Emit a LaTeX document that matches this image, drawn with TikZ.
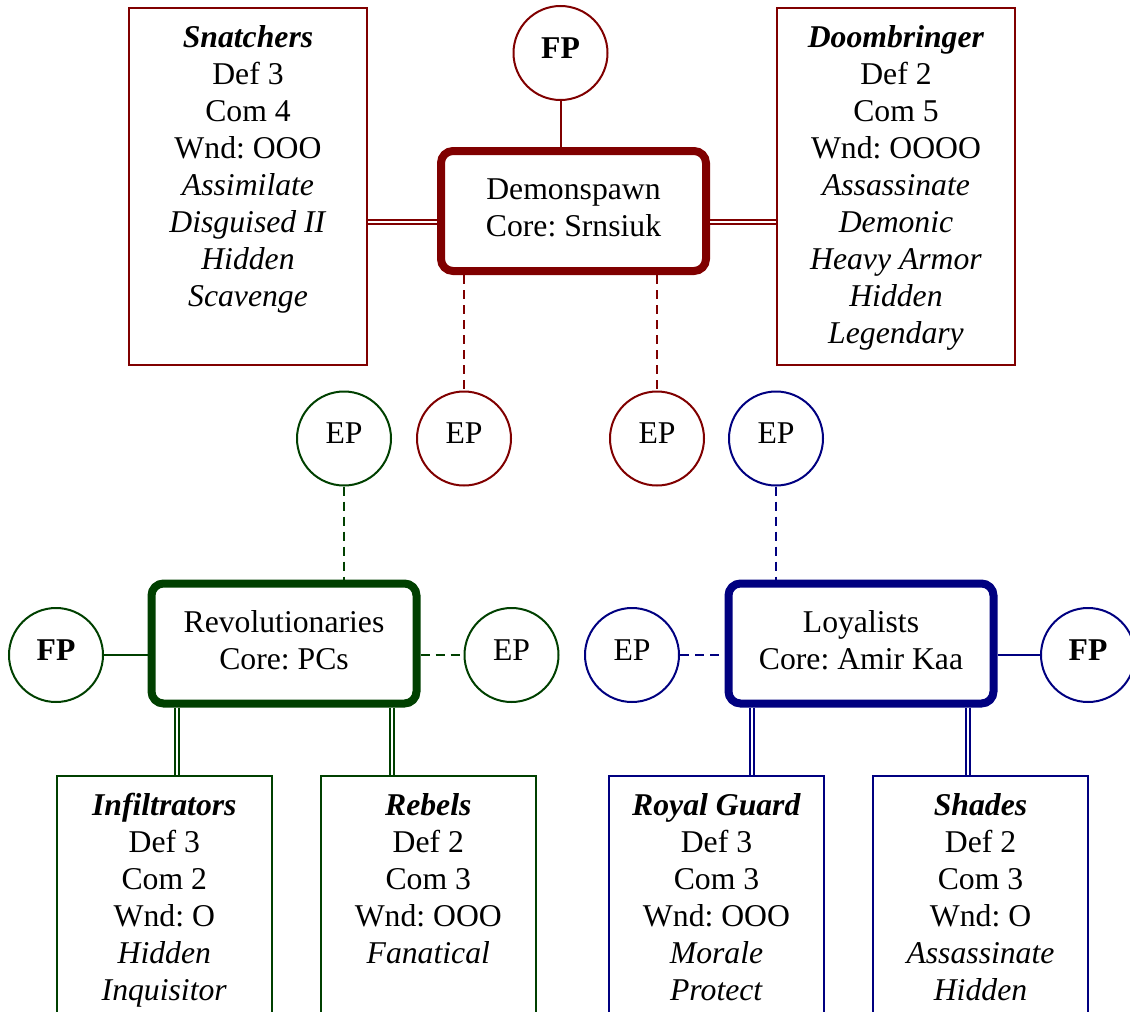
\documentclass[tikz,border=0pt]{standalone}
\usepackage{fontspec}
\setmainfont{Liberation Serif}
\frenchspacing
\definecolor{dred}{RGB}{128,0,0}
\definecolor{dgreen}{RGB}{0,64,0}
\definecolor{dblue}{RGB}{0,0,128}
\newcommand{\ulines}[3]{\parbox[c][#1][t]{#2}{\centering\rule{0pt}{39pt}#3}}
\newcommand{\corelines}[2]{\raisebox{2.5pt}{\begin{tabular}{@{}c@{}}#1\\#2\end{tabular}}}
\begin{document}
\begin{tikzpicture}[x=1pt,y=-1pt,
 every node/.style={font=\fontsize{31.7pt}{37pt}\selectfont},
 core/.style={draw, rounded corners=12pt, line width=8pt, minimum width=265pt, minimum height=120pt, inner sep=0pt},
 unit/.style={draw, line width=2pt, inner sep=0pt},
 circ/.style={draw, circle, line width=2pt, minimum size=94pt, inner sep=0pt, text height=21pt, text depth=11pt},
 conn/.style={line width=2pt},
 dsh/.style={line width=2pt, dash pattern=on 9pt off 6pt},
 dbl/.style={line width=1.5pt, double distance=2.7pt}]
\useasboundingbox (0,0) rectangle (1130,1012);
\clip (0,0) rectangle (1130,1012);

% top group
\node[unit, draw=dred] (snat) at (248,186.5) {\ulines{357pt}{238pt}{\textbf{\textit{Snatchers}}\\Def 3\\Com 4\\Wnd: OOO\\\textit{Assimilate}\\\textit{Disguised II}\\\textit{Hidden}\\\textit{Scavenge}}};
\node[unit, draw=dred] (doom) at (896,186.5) {\ulines{357pt}{238pt}{\textbf{\textit{Doombringer}}\\Def 2\\Com 5\\Wnd: OOOO\\\textit{Assassinate}\\\textit{Demonic}\\\textit{Heavy Armor}\\\textit{Hidden}\\\textit{Legendary}}};
\node[core, draw=dred] (ds) at (573.5,211) {\corelines{Demonspawn}{Core: Srnsiuk}};
\node[circ, draw=dred] (fpt) at (560.5,53) {\textbf{FP}};
\node[circ, draw=dred] (ep1) at (464,438.5) {EP};
\node[circ, draw=dred] (ep2) at (657,438.5) {EP};
\node[circ, draw=dgreen] (epg) at (344,438.5) {EP};
\node[circ, draw=dblue] (epb) at (776,438.5) {EP};

% middle
\node[core, draw=dgreen] (rev) at (284,643.5) {\corelines{Revolutionaries}{Core: PCs}};
\node[core, draw=dblue] (loy) at (861,643.5) {\corelines{Loyalists}{Core: Amir Kaa}};
\node[circ, draw=dgreen] (fpg) at (56,655) {\textbf{FP}};
\node[circ, draw=dgreen] (epr) at (511.5,655) {EP};
\node[circ, draw=dblue] (epl) at (632,655) {EP};
\node[circ, draw=dblue] (fpb) at (1088,655) {\textbf{FP}};

% bottom units
\node[unit, draw=dgreen] (inf) at (164.3,954.5) {\ulines{357pt}{215pt}{\textbf{\textit{Infiltrators}}\\Def 3\\Com 2\\Wnd: O\\\textit{Hidden}\\\textit{Inquisitor}}};
\node[unit, draw=dgreen] (reb) at (428.3,954.5) {\ulines{357pt}{215pt}{\textbf{\textit{Rebels}}\\Def 2\\Com 3\\Wnd: OOO\\\textit{Fanatical}}};
\node[unit, draw=dblue] (roy) at (716.5,954.5) {\ulines{357pt}{215pt}{\textbf{\textit{Royal Guard}}\\Def 3\\Com 3\\Wnd: OOO\\\textit{Morale}\\\textit{Protect}}};
\node[unit, draw=dblue] (sha) at (980.5,954.5) {\ulines{357pt}{215pt}{\textbf{\textit{Shades}}\\Def 2\\Com 3\\Wnd: O\\\textit{Assassinate}\\\textit{Hidden}}};

% connectors
\draw[conn, dred] (fpt.south) -- (fpt.south |- ds.north);
\draw[dbl, dred] (snat.east |- 0,222) -- (ds.west |- 0,222);
\draw[dbl, dred] (ds.east |- 0,222) -- (doom.west |- 0,222);
\draw[dsh, dred] (ep1.north |- ds.south) -- (ep1.north);
\draw[dsh, dred] (ep2.north |- ds.south) -- (ep2.north);
\draw[dsh, dgreen] (epg.south) -- (epg.south |- rev.north);
\draw[dsh, dblue] (epb.south) -- (epb.south |- loy.north);
\draw[conn, dgreen] (fpg.east) -- (fpg.east -| rev.west);
\draw[dsh, dgreen] (rev.east |- epr.west) -- (epr.west);
\draw[dsh, dblue] (epl.east) -- (epl.east -| loy.west);
\draw[conn, dblue] (loy.east |- fpb.west) -- (fpb.west);
\draw[dbl, dgreen] (rev.south -| 177,0) -- (inf.north -| 177,0);
\draw[dbl, dgreen] (rev.south -| 392,0) -- (reb.north -| 392,0);
\draw[dbl, dblue] (loy.south -| 752,0) -- (roy.north -| 752,0);
\draw[dbl, dblue] (loy.south -| 968,0) -- (sha.north -| 968,0);
\end{tikzpicture}
\end{document}
